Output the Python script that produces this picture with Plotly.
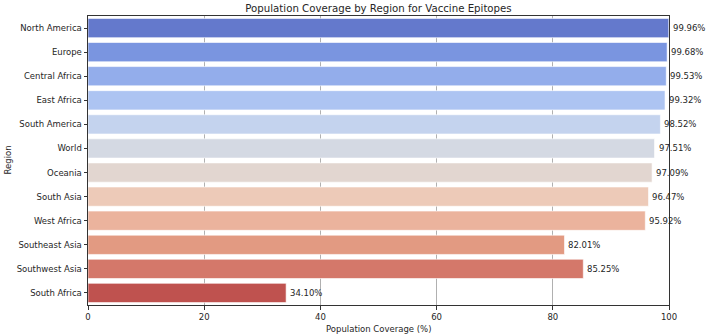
import plotly.graph_objects as go

regions = ["North America", "Europe", "Central Africa", "East Africa", "South America",
           "World", "Oceania", "South Asia", "West Africa", "Southeast Asia",
           "Southwest Asia", "South Africa"]
coverage = [99.96, 99.68, 99.53, 99.32, 98.52, 97.51, 97.09, 96.47, 95.92, 82.01, 85.25, 34.10]
colors = ["#6479CC", "#7A95E0", "#93ADEB", "#ADC4F2", "#C4D3EE", "#D4D9E3",
          "#E2D6D0", "#EDCAB8", "#EBB39D", "#E29A82", "#D4786A", "#BF524F"]
labels = [f"{v:.2f}%" for v in coverage]

FONT = "DejaVu Sans"
TXT = "#262626"

fig = go.Figure()
fig.add_trace(go.Bar(
    x=coverage, y=regions, orientation="h", width=0.8,
    marker=dict(color=colors, line=dict(color="rgba(255,255,255,0.6)", width=1)),
    showlegend=False, hoverinfo="skip",
))

annotations = [
    dict(text=t, x=v, y=r, xref="x", yref="y", xanchor="left", yanchor="middle",
         xshift=2, showarrow=False, font=dict(family=FONT, size=8.5, color=TXT))
    for t, v, r in zip(labels, coverage, regions)
]
annotations += [
    dict(text="Population Coverage (%)", xref="paper", yref="paper",
         x=0.5, y=-24 / 289, xanchor="center", yanchor="middle", showarrow=False,
         font=dict(family=FONT, size=8.5, color=TXT)),
    dict(text="Region", xref="paper", yref="paper",
         x=-81 / 581, y=0.5, xanchor="center", yanchor="middle", textangle=-90,
         showarrow=False, font=dict(family=FONT, size=8.5, color=TXT)),
]

fig.update_layout(
    width=708, height=336,
    margin=dict(l=88, r=39, t=16, b=31),
    paper_bgcolor="white", plot_bgcolor="white",
    bargap=0.2,
    font=dict(family=FONT, size=8.5, color=TXT),
    title=dict(text="Population Coverage by Region for Vaccine Epitopes",
               x=(88 + 669) / 2 / 708, xanchor="center", y=1 - 8 / 336, yanchor="middle",
               font=dict(family=FONT, size=10.2, color=TXT)),
    xaxis=dict(range=[0, 100], tickvals=[0, 20, 40, 60, 80, 100],
               showgrid=True, gridcolor="#b0b0b0", gridwidth=1,
               zeroline=False, showline=True, linecolor="#333333", linewidth=1,
               mirror=True, ticks="outside", ticklen=3.5, tickcolor="#333333",
               tickfont=dict(family=FONT, size=8.5, color=TXT)),
    yaxis=dict(range=[11.5, -0.5], categoryorder="array", categoryarray=regions,
               showgrid=False, zeroline=False, showline=True, linecolor="#333333",
               linewidth=1, mirror=True, ticks="outside", ticklen=3.5, tickcolor="#333333",
               tickfont=dict(family=FONT, size=8.5, color=TXT)),
    annotations=annotations,
)

fig.write_html("out.html")
